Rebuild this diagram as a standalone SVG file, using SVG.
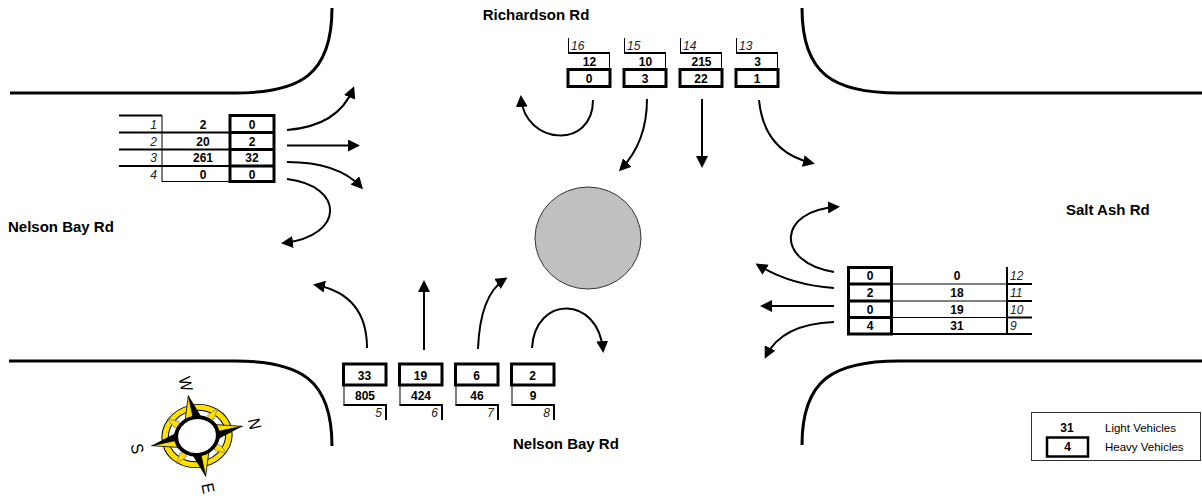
<svg xmlns="http://www.w3.org/2000/svg" width="1202" height="499" viewBox="0 0 1202 499">
<style>
.curb{fill:none;stroke:#000;stroke-width:3}
.flow{fill:none;stroke:#000;stroke-width:2;marker-end:url(#ah)}
.hv{fill:none;stroke:#000;stroke-width:3}
.ln{fill:none;stroke:#000;stroke-width:1}
.ln2{fill:none;stroke:#000;stroke-width:2}
text{font-family:"Liberation Sans",Arial,sans-serif;fill:#000}
.v{font-size:12px;font-weight:bold;text-anchor:middle}
.ix{font-size:12px;font-style:italic;fill:#222}
.ixe{font-size:12px;font-style:italic;fill:#222;text-anchor:end}
.road{font-size:15px;font-weight:bold}
.lg{font-size:11.5px}
.cl{font-size:17px;text-anchor:middle}
</style>
<defs>
<marker id="ah" viewBox="0 0 12 12" refX="9" refY="6" markerWidth="12" markerHeight="12" markerUnits="userSpaceOnUse" orient="auto">
<path d="M0,0 L12,6 L0,12 z" fill="#000"/>
</marker>
<g id="mainpt">
<polygon points="0,-46.5 0,-14 -9,-18" fill="#FFE000" stroke="#000" stroke-width="0.8"/>
<polygon points="0,-46.5 9,-18 0,-14" fill="#000"/>
</g>
<polygon id="minorpt" points="0,-36 4,-25 0,-20 -4,-25" fill="#FFE000" stroke="#777" stroke-width="0.7"/>
</defs>

<!-- kerb lines -->
<g id="kerbs">
<path class="curb" d="M10,93 L235,93 C300,93 332,75 332,8"/>
<path class="curb" d="M802,8 C802,75 834,93 899,93 L1202,93"/>
<path class="curb" d="M9,361 L235,361 C300,361 332,379 332,446"/>
<path class="curb" d="M1202,361 L899,361 C834,361 802,379 802,445"/>
</g>

<!-- roundabout island -->
<g id="roundabout">
<ellipse cx="588" cy="238" rx="53" ry="51" fill="#C0C0C0" stroke="#333" stroke-width="1"/>
</g>

<!-- road names -->
<g id="road-names">
<text class="road" x="536" y="20" text-anchor="middle">Richardson Rd</text>
<text class="road" x="8" y="232">Nelson Bay Rd</text>
<text class="road" x="1066" y="215">Salt Ash Rd</text>
<text class="road" x="513" y="449">Nelson Bay Rd</text>
</g>

<!-- west approach counts -->
<g id="counts-west">
<path class="ln2" d="M119,115.5H162M119,132.5H230M119,149.5H230M119,166H230"/>
<path class="ln" d="M162,115.5V182M162,181.5H230"/>
<rect class="hv" x="230" y="115.5" width="44" height="66"/>
<path class="hv" d="M230,132.5H274M230,149.5H274M230,166H274"/>
<text class="ixe" x="157" y="128.5">1</text>
<text class="ixe" x="157" y="145.5">2</text>
<text class="ixe" x="157" y="162">3</text>
<text class="ixe" x="157" y="178.5">4</text>
<text class="v" x="203" y="128.5">2</text>
<text class="v" x="203" y="145.5">20</text>
<text class="v" x="203" y="162">261</text>
<text class="v" x="203" y="178.5">0</text>
<text class="v" x="252" y="128.5">0</text>
<text class="v" x="252" y="145.5">2</text>
<text class="v" x="252" y="162">32</text>
<text class="v" x="252" y="178.5">0</text>
</g>

<!-- north approach counts -->
<g id="counts-north-16" transform="translate(568,0)">
<path class="ln" d="M0.5,38V53M41.5,53V69"/><path class="ln2" d="M0,53H42"/>
<text class="ix" x="3" y="50">16</text><text class="v" x="21.5" y="66">12</text>
<rect class="hv" x="0" y="69.5" width="42" height="17"/><text class="v" x="21" y="82.5">0</text>
</g>
<g id="counts-north-15" transform="translate(624,0)">
<path class="ln" d="M0.5,38V53M41.5,53V69"/><path class="ln2" d="M0,53H42"/>
<text class="ix" x="3" y="50">15</text><text class="v" x="21.5" y="66">10</text>
<rect class="hv" x="0" y="69.5" width="42" height="17"/><text class="v" x="21" y="82.5">3</text>
</g>
<g id="counts-north-14" transform="translate(680,0)">
<path class="ln" d="M0.5,38V53M41.5,53V69"/><path class="ln2" d="M0,53H42"/>
<text class="ix" x="3" y="50">14</text><text class="v" x="21.5" y="66">215</text>
<rect class="hv" x="0" y="69.5" width="42" height="17"/><text class="v" x="21" y="82.5">22</text>
</g>
<g id="counts-north-13" transform="translate(736,0)">
<path class="ln" d="M0.5,38V53M41.5,53V69"/><path class="ln2" d="M0,53H42"/>
<text class="ix" x="3" y="50">13</text><text class="v" x="21.5" y="66">3</text>
<rect class="hv" x="0" y="69.5" width="42" height="17"/><text class="v" x="21" y="82.5">1</text>
</g>

<!-- east approach counts -->
<g id="counts-east">
<rect class="hv" x="848.5" y="267.5" width="43" height="66.5"/>
<path class="hv" d="M848.5,284H891.5M848.5,301H891.5M848.5,317.5H891.5"/>
<path class="ln" d="M891.5,284H1007M891.5,301H1007M891.5,317.5H1007"/>
<path class="ln2" d="M891.5,334H1032M1007,267V335M1007,284H1032M1007,301H1032M1007,317.5H1032"/>
<text class="v" x="870" y="280">0</text>
<text class="v" x="870" y="296.5">2</text>
<text class="v" x="870" y="313.5">0</text>
<text class="v" x="870" y="330">4</text>
<text class="v" x="957" y="280">0</text>
<text class="v" x="957" y="296.5">18</text>
<text class="v" x="957" y="313.5">19</text>
<text class="v" x="957" y="330">31</text>
<text class="ix" x="1010" y="280">12</text>
<text class="ix" x="1010" y="296.5">11</text>
<text class="ix" x="1010" y="313.5">10</text>
<text class="ix" x="1010" y="330">9</text>
</g>

<!-- south approach counts -->
<g id="counts-south-5" transform="translate(343.5,0)">
<rect class="hv" x="0" y="364" width="42.5" height="21"/><text class="v" x="21" y="380">33</text>
<path class="ln" d="M0.5,385V405"/><path class="ln2" d="M0,405H42.5M42.5,404V420"/>
<text class="v" x="21.5" y="400">805</text><text class="ixe" x="38.5" y="416.5">5</text>
</g>
<g id="counts-south-6" transform="translate(399.5,0)">
<rect class="hv" x="0" y="364" width="42.5" height="21"/><text class="v" x="21" y="380">19</text>
<path class="ln" d="M0.5,385V405"/><path class="ln2" d="M0,405H42.5M42.5,404V420"/>
<text class="v" x="21.5" y="400">424</text><text class="ixe" x="38.5" y="416.5">6</text>
</g>
<g id="counts-south-7" transform="translate(455.5,0)">
<rect class="hv" x="0" y="364" width="42.5" height="21"/><text class="v" x="21" y="380">6</text>
<path class="ln" d="M0.5,385V405"/><path class="ln2" d="M0,405H42.5M42.5,404V420"/>
<text class="v" x="21.5" y="400">46</text><text class="ixe" x="38.5" y="416.5">7</text>
</g>
<g id="counts-south-8" transform="translate(511.5,0)">
<rect class="hv" x="0" y="364" width="42.5" height="21"/><text class="v" x="21" y="380">2</text>
<path class="ln" d="M0.5,385V405"/><path class="ln2" d="M0,405H42.5M42.5,404V420"/>
<text class="v" x="21.5" y="400">9</text><text class="ixe" x="38.5" y="416.5">8</text>
</g>

<!-- turning movements -->
<g id="movements">
<path class="flow" d="M287,130 Q338,126 353,89"/>
<path class="flow" d="M287,145.5 L357,145.5"/>
<path class="flow" d="M287,162 Q338,162 361,187"/>
<path class="flow" d="M287,179 C345,186 345,236 284,243"/>
<path class="flow" d="M593,100 C593,150 525,145 521,98"/>
<path class="flow" d="M647,99 Q647,142 621,169"/>
<path class="flow" d="M702,99 L702,165"/>
<path class="flow" d="M759,100 Q764,152 812,163"/>
<path class="flow" d="M834,272 C774,262 778,210 837,207"/>
<path class="flow" d="M834,288 Q790,285 758,265"/>
<path class="flow" d="M834,306 L763,306"/>
<path class="flow" d="M834,322 Q782,324 766,356"/>
<path class="flow" d="M367,348 Q367,295 316,285"/>
<path class="flow" d="M424,350 L424,283"/>
<path class="flow" d="M478,349 Q480,295 505,279"/>
<path class="flow" d="M532,348 C535,295 598,295 603,350"/>
</g>

<!-- compass rose -->
<g id="compass" transform="translate(197,436) rotate(78) scale(0.89,1)">
<circle r="32" fill="none" stroke="#000" stroke-width="7.5"/>
<circle r="32" fill="none" stroke="#FFE000" stroke-width="5.5"/>
<use href="#minorpt" transform="rotate(45)"/>
<use href="#minorpt" transform="rotate(135)"/>
<use href="#minorpt" transform="rotate(225)"/>
<use href="#minorpt" transform="rotate(315)"/>
<use href="#mainpt"/>
<use href="#mainpt" transform="rotate(90)"/>
<use href="#mainpt" transform="rotate(180)"/>
<use href="#mainpt" transform="rotate(270)"/>
<circle r="21" fill="#fff" stroke="#000" stroke-width="4"/>
<text class="cl" x="0" y="-53">N</text>
<text class="cl" x="60" y="6">E</text>
<text class="cl" x="0" y="67">S</text>
<text class="cl" x="-60" y="6">W</text>
</g>

<!-- legend -->
<g id="legend">
<rect x="1031.5" y="412.5" width="169" height="48" fill="none" stroke="#333" stroke-width="1"/>
<text class="v" x="1067" y="432">31</text>
<rect x="1047" y="437.5" width="41" height="19" fill="none" stroke="#000" stroke-width="2.5"/>
<text class="v" x="1067.5" y="451">4</text>
<text class="lg" x="1105" y="432">Light Vehicles</text>
<text class="lg" x="1105" y="451">Heavy Vehicles</text>
</g>
</svg>
